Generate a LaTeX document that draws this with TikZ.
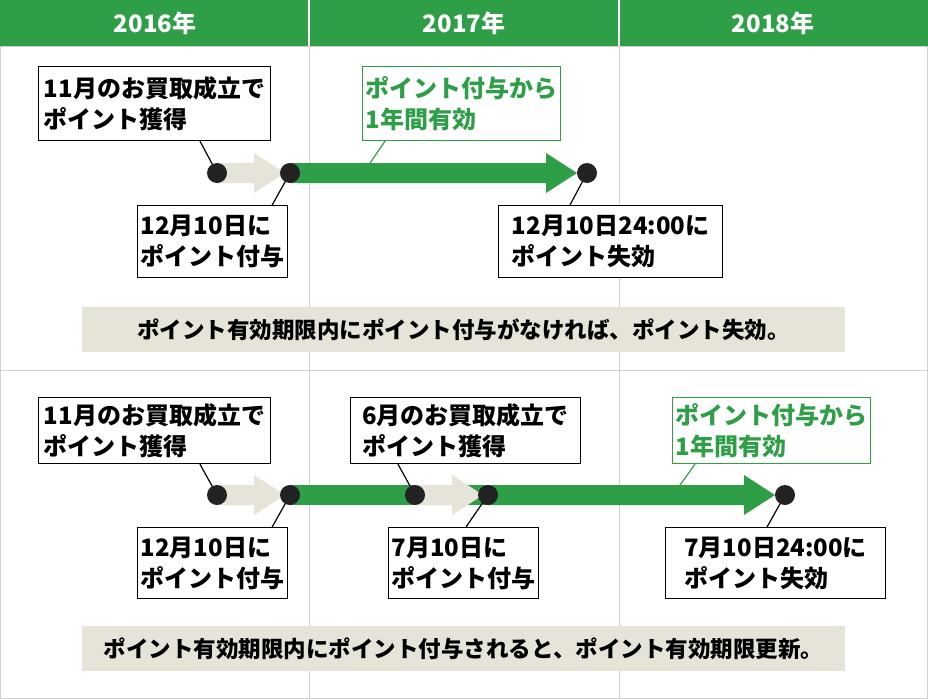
\documentclass[tikz,border=0pt]{standalone}
\usepackage{fontspec}
\setmainfont{Noto Sans CJK JP}
\usetikzlibrary{calc}
\definecolor{kgreen}{HTML}{2E9E47}
\definecolor{kbeige}{HTML}{E6E3D8}
\definecolor{kdot}{HTML}{222222}
\definecolor{kline}{HTML}{D0D0D0}
\tikzset{
  lbl/.style={draw=black, line width=1.2pt, fill=white, align=left, inner sep=3pt, font=\bfseries\fontsize{24}{31}\selectfont, anchor=north west},
  glbl/.style={lbl, draw=kgreen, text=kgreen},
  dot/.style={circle, fill=kdot, minimum size=20pt, inner sep=0pt},
  lead/.style={line width=1.2pt},
  glead/.style={line width=1.2pt, kgreen},
  banner/.style={fill=kbeige, minimum width=763pt, minimum height=45pt, font=\bfseries\fontsize{22.5}{24}\selectfont},
  year/.style={text=white, font=\bfseries\fontsize{24}{26}\selectfont}
}
% fat arrow: from, to, colour
\newcommand{\fatarrow}[3]{%
  \fill[#3] ($(#1)+(0,-10)$) -- ($(#2)+(-31,-10)$) -- ($(#2)+(-31,-20)$) -- (#2)
    -- ($(#2)+(-31,20)$) -- ($(#2)+(-31,10)$) -- ($(#1)+(0,10)$) -- cycle;}
\begin{document}
\begin{tikzpicture}[x=1pt,y=-1pt]
  \useasboundingbox (0,0) rectangle (928,699);
  % frame and header
  \fill[kgreen] (0,0) rectangle (928,46);
  \draw[kline, line width=1pt] (0.5,46) rectangle (927.5,698.5);
  \draw[white, line width=1.5pt] (309,0) -- (309,46) (619,0) -- (619,46);
  \draw[kline, line width=1pt] (309,46) -- (309,699) (619,46) -- (619,699);
  \draw[kline, line width=1pt] (0,370) -- (928,370);
  \node[year] (y16) at (155,23) {2016年};
  \node[year] (y17) at (464,23) {2017年};
  \node[year] (y18) at (773,23) {2018年};

  % upper case
  \coordinate (a1) at (217,173); \coordinate (a2) at (290,173);
  \coordinate (a3) at (587,173);
  \fatarrow{a1}{285,173}{kbeige}
  \fatarrow{a2}{577,173}{kgreen}
  \node[lbl, minimum width=232pt, minimum height=74pt] (buy1) at (38,66) {11月のお買取成立で\\ポイント獲得};
  \node[glbl, minimum width=198pt, minimum height=74pt] (valid1) at (362,66) {ポイント付与から\\1年間有効};
  \node[lbl, minimum width=147pt, minimum height=72pt] (give1) at (137,205) {12月10日に\\ポイント付与};
  \node[lbl, minimum width=224pt, minimum height=72pt] (lose1) at (498,205) {12月10日24:00に\\ポイント失効};
  \draw[lead] (buy1.south west)++(162,0) -- (a1);
  \draw[glead] (valid1.south west)++(23,0) -- (370,163);
  \draw[lead] (give1.north east)++(-16,0) -- (a2);
  \draw[lead] (lose1.north west)++(72,0) -- (a3);
  \node[dot] (d1) at (a1) {}; \node[dot] (d2) at (a2) {}; \node[dot] (d3) at (a3) {};
  \node[banner] (note1) at (463.5,329.5) {ポイント有効期限内にポイント付与がなければ、ポイント失効。};

  % lower case
  \coordinate (b1) at (217,495); \coordinate (b2) at (290,495);
  \coordinate (b3) at (415,495); \coordinate (b4) at (488,495);
  \coordinate (b5) at (785,495);
  \fill[kgreen] ($(b2)+(0,-10)$) rectangle ($(b4)+(0,10)$);
  \fatarrow{b1}{285,495}{kbeige}
  \fatarrow{b3}{483,495}{kbeige}
  \fatarrow{b4}{775,495}{kgreen}
  \node[lbl, minimum width=232pt, minimum height=66pt] (buy2) at (38,397) {11月のお買取成立で\\ポイント獲得};
  \node[lbl, minimum width=230pt, minimum height=66pt] (buy3) at (350,397) {6月のお買取成立で\\ポイント獲得};
  \node[glbl, minimum width=198pt, minimum height=66pt] (valid2) at (672,397) {ポイント付与から\\1年間有効};
  \node[lbl, minimum width=147pt, minimum height=71pt] (give2) at (137,527) {12月10日に\\ポイント付与};
  \node[lbl, minimum width=149pt, minimum height=71pt] (give3) at (388,527) {7月10日に\\ポイント付与};
  \node[lbl, minimum width=220pt, minimum height=71pt] (lose2) at (665,527) {7月10日24:00に\\ポイント失効};
  \draw[lead] (buy2.south west)++(162,0) -- (b1);
  \draw[lead] (buy3.south west)++(48,0) -- (b3);
  \draw[glead] (valid2.south west)++(23,0) -- (680,485);
  \draw[lead] (give2.north east)++(-16,0) -- (b2);
  \draw[lead] (give3.north west)++(78,0) -- (b4);
  \draw[lead] (lose2.north west)++(102,0) -- (b5);
  \node[dot] (e1) at (b1) {}; \node[dot] (e2) at (b2) {}; \node[dot] (e3) at (b3) {};
  \node[dot] (e4) at (b4) {}; \node[dot] (e5) at (b5) {};
  \node[banner] (note2) at (463.5,648.5) {ポイント有効期限内にポイント付与されると、ポイント有効期限更新。};
\end{tikzpicture}
\end{document}
